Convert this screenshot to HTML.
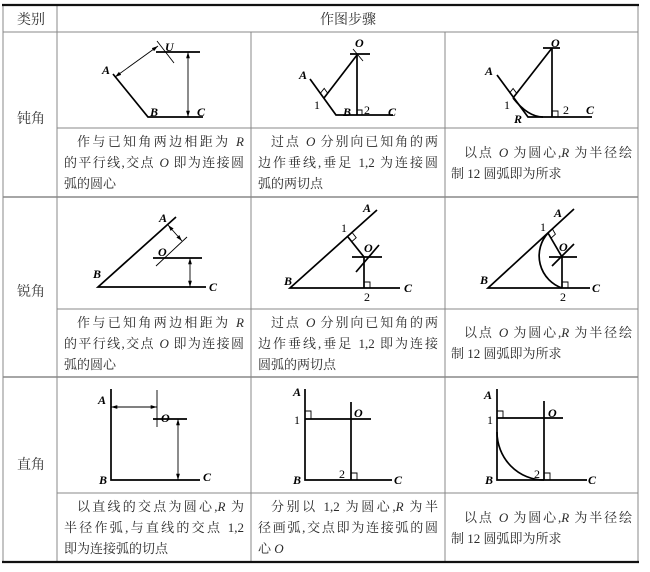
<!DOCTYPE html>
<html><head><meta charset="utf-8"><style>
body{margin:0;background:#fff;width:650px;height:572px;position:relative;overflow:hidden;font-family:"Liberation Serif","Noto Serif CJK SC","Noto Sans CJK SC",serif;color:#2a2a2a}
.t{position:absolute;font-size:13px;line-height:21px;display:flex;flex-direction:column;justify-content:center}
.t div{white-space:nowrap}
.j{text-align:justify;text-align-last:justify}
.lab{position:absolute;font-size:14px;color:#333}
svg{position:absolute;left:0;top:0}
</style></head><body>
<svg width="650" height="572" viewBox="0 0 650 572">
<defs>
<marker id="ar" viewBox="0 0 10 10" refX="10" refY="5" markerWidth="7" markerHeight="7" orient="auto-start-reverse"><path d="M0,2 L10,5 L0,8 z" fill="#000"/></marker>
</defs>
<g stroke="#888" stroke-width="1" fill="none">
<line x1="3" y1="32" x2="638" y2="32"/>
<line x1="57" y1="128" x2="638" y2="128"/>
<line x1="3" y1="197" x2="638" y2="197" stroke-width="1.5"/>
<line x1="57" y1="309" x2="638" y2="309"/>
<line x1="3" y1="377" x2="638" y2="377" stroke-width="1.5"/>
<line x1="57" y1="493" x2="638" y2="493"/>
<line x1="57" y1="5" x2="57" y2="562"/>
<line x1="251" y1="32" x2="251" y2="562"/>
<line x1="445" y1="32" x2="445" y2="562"/>
<line x1="3" y1="5" x2="3" y2="562"/>
<line x1="638" y1="5" x2="638" y2="562"/>
</g>
<line x1="2" y1="5" x2="639" y2="5" stroke="#111" stroke-width="2.2"/>
<line x1="2" y1="562" x2="639" y2="562" stroke="#111" stroke-width="2.2"/>

<g stroke="#000" fill="none" stroke-width="1.7">
<polyline points="113,74 148,117 203,117"/>
<line x1="156" y1="52" x2="200" y2="52" />
<polyline points="310,79 336,115 393,115"/>
<line x1="324" y1="98" x2="357" y2="55"/>
<line x1="357" y1="55" x2="357" y2="115"/>
<line x1="350" y1="54" x2="370" y2="54"/>
<polyline points="497,75 528,117 592,117"/>
<line x1="513" y1="98" x2="552" y2="48"/>
<line x1="552" y1="48" x2="552" y2="117"/>
<line x1="543" y1="48" x2="560" y2="48"/>
<path d="M513,98 Q528,117 543,117"/>
<polyline points="176,217 98,287 206,287"/>
<line x1="153" y1="258" x2="202" y2="258"/>
<polyline points="377,210 290,288 400,288"/>
<line x1="348" y1="237" x2="364" y2="257"/>
<line x1="364" y1="257" x2="364" y2="288"/>
<line x1="352" y1="257" x2="382" y2="257"/>
<line x1="356" y1="272" x2="379" y2="245"/>
<polyline points="574,209 488,288 590,288"/>
<line x1="548" y1="233" x2="562" y2="257"/>
<line x1="562" y1="257" x2="562" y2="288"/>
<line x1="549" y1="257" x2="577" y2="257"/>
<line x1="552" y1="266" x2="574" y2="244"/>
<path d="M548,233 A34 34 0 0 0 562,288"/>
<polyline points="111,389 111,480 200,480"/>
<line x1="153" y1="419" x2="187" y2="419"/>
<polyline points="305,389 305,480 392,480"/>
<line x1="305" y1="419" x2="371" y2="419"/>
<line x1="351" y1="402" x2="351" y2="480"/>
<polyline points="497,389 497,480 587,480"/>
<line x1="497" y1="418" x2="563" y2="418"/>
<line x1="544" y1="401" x2="544" y2="480"/>
<path d="M497,432 A47 48 0 0 0 544,480"/>
</g>
<g stroke="#000" fill="none" stroke-width="0.9">
<line x1="115" y1="77" x2="158" y2="46" marker-start="url(#ar)" marker-end="url(#ar)"/>
<line x1="157" y1="41" x2="174" y2="63"/>
<line x1="188" y1="52" x2="188" y2="117" marker-start="url(#ar)" marker-end="url(#ar)"/>
<line x1="353" y1="49" x2="363" y2="61"/>
<polyline points="320.5,93.1 324.2,88.4 327.7,93.3"/>
<polyline points="357,110 362,110 362,115"/>
<polyline points="509.4,93.2 513.1,88.5 516.7,93.3"/>
<polyline points="552,111 558,111 558,117"/>
<line x1="156" y1="266" x2="187" y2="237"/>
<line x1="168" y1="225" x2="182" y2="241" marker-start="url(#ar)" marker-end="url(#ar)"/>
<line x1="190" y1="258" x2="190" y2="287" marker-start="url(#ar)" marker-end="url(#ar)"/>
<polyline points="352.5,233 356.2,237.7 351.7,241.7"/>
<polyline points="364,282 370,282 370,288"/>
<polyline points="552.4,229 555.4,234.2 551,238.2"/>
<polyline points="562,282 568,282 568,288"/>
<line x1="111" y1="407" x2="157" y2="407" marker-start="url(#ar)" marker-end="url(#ar)"/>
<line x1="157" y1="390" x2="157" y2="427"/>
<line x1="178" y1="419" x2="178" y2="480" marker-start="url(#ar)" marker-end="url(#ar)"/>
<polyline points="305,411 311,411 311,419"/>
<polyline points="351,473 357,473 357,480"/>
<polyline points="497,411 503,411 503,418"/>
<polyline points="544,473 550,473 550,480"/>
</g>
<g font-family="Liberation Serif, serif" font-size="12" fill="#000">
<g font-style="italic" font-weight="bold">
<text x="102" y="74">A</text><text x="150" y="116">B</text><text x="197" y="116">C</text><text x="165" y="51">U</text>
<text x="299" y="79">A</text><text x="343" y="116">B</text><text x="388" y="116">C</text><text x="355" y="47">O</text>
<text x="485" y="75">A</text><text x="514" y="123">R</text><text x="586" y="114">C</text><text x="551" y="47">O</text>
<text x="159" y="222">A</text><text x="158" y="256">O</text><text x="93" y="278">B</text><text x="209" y="291">C</text>
<text x="363" y="212">A</text><text x="364" y="252">O</text><text x="284" y="285">B</text><text x="404" y="292">C</text>
<text x="554" y="217">A</text><text x="559" y="251">O</text><text x="480" y="284">B</text><text x="592" y="292">C</text>
<text x="98" y="404">A</text><text x="161" y="422">O</text><text x="99" y="484">B</text><text x="203" y="481">C</text>
<text x="293" y="396">A</text><text x="354" y="417">O</text><text x="293" y="484">B</text><text x="394" y="484">C</text>
<text x="484" y="399">A</text><text x="548" y="417">O</text><text x="485" y="484">B</text><text x="588" y="484">C</text>
</g>
<text x="314" y="109">1</text><text x="364" y="114">2</text>
<text x="504" y="109">1</text><text x="563" y="114">2</text>
<text x="341" y="232">1</text><text x="364" y="301">2</text>
<text x="540" y="231">1</text><text x="560" y="301">2</text>
<text x="294" y="424">1</text><text x="339" y="478">2</text>
<text x="487" y="424">1</text><text x="534" y="478">2</text>
</g>
</svg>

<div class="lab" style="left:17px;top:9px">类别</div>
<div class="lab" style="left:320px;top:9px">作图步骤</div>
<div class="lab" style="left:17px;top:108px">钝角</div>
<div class="lab" style="left:17px;top:281px">锐角</div>
<div class="lab" style="left:17px;top:454px">直角</div>

<div class="t" style="left:64px;top:128px;width:180px;height:69px">
<div class="j" style="padding-left:13px">作与已知角两边相距为 <i>R</i></div>
<div class="j">的平行线,交点 <i>O</i> 即为连接圆</div>
<div>弧的圆心</div></div>
<div class="t" style="left:258px;top:128px;width:180px;height:69px">
<div class="j" style="padding-left:13px">过点 <i>O</i> 分别向已知角的两</div>
<div class="j">边作垂线,垂足 1,2 为连接圆</div>
<div>弧的两切点</div></div>
<div class="t" style="left:451px;top:128px;width:181px;height:69px">
<div class="j" style="padding-left:13px">以点 <i>O</i> 为圆心,<i>R</i> 为半径绘</div>
<div>制 12 圆弧即为所求</div></div>

<div class="t" style="left:64px;top:309px;width:180px;height:68px">
<div class="j" style="padding-left:13px">作与已知角两边相距为 <i>R</i></div>
<div class="j">的平行线,交点 <i>O</i> 即为连接圆</div>
<div>弧的圆心</div></div>
<div class="t" style="left:258px;top:309px;width:180px;height:68px">
<div class="j" style="padding-left:13px">过点 <i>O</i> 分别向已知角的两</div>
<div class="j">边作垂线,垂足 1,2 即为连接</div>
<div>圆弧的两切点</div></div>
<div class="t" style="left:451px;top:309px;width:181px;height:68px">
<div class="j" style="padding-left:13px">以点 <i>O</i> 为圆心,<i>R</i> 为半径绘</div>
<div>制 12 圆弧即为所求</div></div>

<div class="t" style="left:64px;top:493px;width:180px;height:69px">
<div class="j" style="padding-left:13px">以直线的交点为圆心,<i>R</i> 为</div>
<div class="j">半径作弧,与直线的交点 1,2</div>
<div>即为连接弧的切点</div></div>
<div class="t" style="left:258px;top:493px;width:180px;height:69px">
<div class="j" style="padding-left:13px">分别以 1,2 为圆心,<i>R</i> 为半</div>
<div class="j">径画弧,交点即为连接弧的圆</div>
<div>心 <i>O</i></div></div>
<div class="t" style="left:451px;top:493px;width:181px;height:69px">
<div class="j" style="padding-left:13px">以点 <i>O</i> 为圆心,<i>R</i> 为半径绘</div>
<div>制 12 圆弧即为所求</div></div>
</body></html>
